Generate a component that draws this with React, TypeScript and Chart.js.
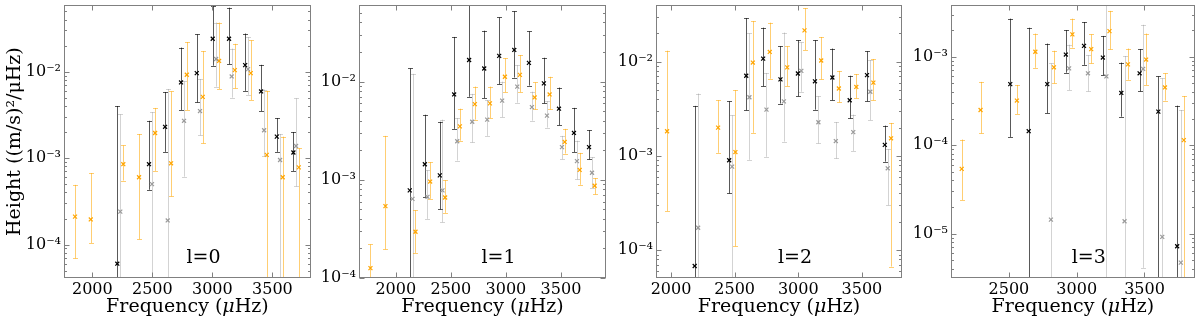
import React, { useEffect, useRef } from "react";
import { Chart, registerables } from "chart.js";

Chart.register(...registerables);

// ---------------- data ----------------
const xTicksFull = [2000, 2500, 3000, 3500];
const xTicksL3 = [2500, 3000, 3500];
const yTicksA = [1e-2, 1e-3, 1e-4];
const yTickLabelsA = ["10⁻²", "10⁻³", "10⁻⁴"];
const yTicksL3 = [1e-3, 1e-4, 1e-5];
const yTickLabelsL3 = ["10⁻³", "10⁻⁴", "10⁻⁵"];
const panelLabels = ["l=0", "l=1", "l=2", "l=3"];
const xTitleParts = ["Frequency (", "μ", "Hz)"];
const yTitle = "Height ((m/s)²/μHz)";

// l = 0
const l0BlackFreq = [2208, 2472, 2606, 2739, 2870, 3003, 3139, 3273, 3406, 3537, 3675];
const l0BlackVal = [6.0e-5, 8.5e-4, 2.3e-3, 7.5e-3, 9.6e-3, 2.4e-2, 2.4e-2, 1.19e-2, 5.9e-3, 1.77e-3, 1.16e-3];
const l0BlackLo = [1e-8, 4.3e-4, 1.18e-3, 3.6e-3, 4.4e-3, 1.17e-2, 1.22e-2, 6.0e-3, 3.5e-3, 1.18e-3, 7.1e-4];
const l0BlackHi = [4.0e-3, 2.7e-3, 5.8e-3, 1.9e-2, 2.7e-2, 5.7e-2, 5.5e-2, 2.76e-2, 1.2e-2, 2.9e-3, 2.0e-3];

const l0GrayFreq = [2233, 2497, 2628, 2764, 2897, 3031, 3161, 3297, 3431, 3564, 3697];
const l0GrayVal = [2.4e-4, 5.0e-4, 1.9e-4, 2.7e-3, 3.5e-3, 1.4e-2, 8.8e-3, 1.07e-2, 2.1e-3, 9.5e-4, 1.38e-3];
const l0GrayLo = [1e-8, 1e-8, 1e-8, 6.1e-4, 1.83e-3, 6.7e-3, 5.0e-3, 5.4e-3, 1.06e-3, 1e-8, 4.7e-4];
const l0GrayHi = [3.2e-3, 3.4e-3, 6.3e-3, 7.7e-3, 8.2e-3, 3.7e-2, 1.85e-2, 2.5e-2, 6.2e-3, 1.9e-3, 4.9e-3];

const l0OrangeFreq = [1856, 1987, 2258, 2389, 2523, 2656, 2787, 2920, 3056, 3187, 3320, 3453, 3586, 3720];
const l0OrangeVal = [2.1e-4, 1.95e-4, 8.5e-4, 6.0e-4, 1.95e-3, 8.7e-4, 9.2e-3, 5.1e-3, 1.33e-2, 1.04e-2, 9.6e-3, 1.09e-3, 6.0e-4, 7.8e-4];
const l0OrangeLo = [6.9e-5, 1.04e-4, 5.5e-4, 1.15e-4, 7.1e-4, 3.6e-4, 3.6e-3, 1.48e-3, 6.3e-3, 6.4e-3, 4.7e-3, 1e-8, 1e-8, 1e-8];
const l0OrangeHi = [4.9e-4, 6.7e-4, 1.4e-3, 1.9e-3, 3.8e-3, 5.9e-3, 2.2e-2, 1.73e-2, 3.7e-2, 2.1e-2, 2.3e-2, 6.0e-3, 1.77e-3, 1.3e-3];

// l = 1
const l1BlackFreq = [2127, 2264, 2400, 2530, 2666, 2803, 2939, 3076, 3209, 3345, 3482, 3618, 3755];
const l1BlackVal = [7.8e-4, 1.44e-3, 1.11e-3, 7.4e-3, 1.66e-2, 1.36e-2, 1.83e-2, 2.1e-2, 1.55e-2, 9.6e-3, 5.3e-3, 3.0e-3, 2.15e-3];
const l1BlackLo = [1e-8, 6.7e-4, 5.0e-4, 3.3e-3, 7.0e-3, 6.8e-3, 9.4e-3, 1.1e-2, 9.1e-3, 6.0e-3, 3.6e-3, 1.92e-3, 1.61e-3];
const l1BlackHi = [1.36e-2, 4.6e-3, 3.9e-3, 2.85e-2, 1e-1, 3.3e-2, 4.5e-2, 5.2e-2, 3.25e-2, 1.75e-2, 8.7e-3, 5.4e-3, 3.2e-3];

const l1GrayFreq = [2152, 2288, 2424, 2558, 2694, 2830, 2966, 3103, 3236, 3373, 3509, 3645, 3782];
const l1GrayVal = [6.4e-4, 6.7e-4, 7.8e-4, 2.47e-3, 3.9e-3, 4.1e-3, 6.4e-3, 8.9e-3, 5.5e-3, 4.5e-3, 2.15e-3, 1.55e-3, 1.18e-3];
const l1GrayLo = [1e-8, 4.0e-4, 3.7e-4, 1.57e-3, 2.4e-3, 2.8e-3, 4.35e-3, 6.1e-3, 4.0e-3, 3.4e-3, 1.62e-3, 1.01e-3, 8.3e-4];
const l1GrayHi = [1.2e-2, 1.25e-3, 4.1e-3, 4.25e-3, 7.5e-3, 6.5e-3, 1.0e-2, 1.47e-2, 7.9e-3, 6.3e-3, 2.8e-3, 2.5e-3, 1.7e-3];

const l1OrangeFreq = [1770, 1906, 2179, 2312, 2448, 2582, 2718, 2855, 2991, 3127, 3261, 3397, 3534, 3670, 3806];
const l1OrangeVal = [1.26e-4, 5.4e-4, 2.96e-4, 9.6e-4, 6.6e-4, 3.5e-3, 5.9e-3, 6.0e-3, 1.12e-2, 1.17e-2, 6.9e-3, 7.4e-3, 2.43e-3, 1.26e-3, 8.7e-4];
const l1OrangeLo = [1e-8, 1.96e-4, 1.8e-4, 6.4e-4, 4.6e-4, 2.5e-3, 4.1e-3, 4.25e-3, 7.8e-3, 7.8e-3, 5.2e-3, 5.2e-3, 1.85e-3, 8.9e-4, 7.1e-4];
const l1OrangeHi = [2.2e-4, 2.8e-3, 4.9e-4, 1.51e-3, 9.9e-4, 5.3e-3, 8.9e-3, 8.9e-3, 1.73e-2, 1.86e-2, 9.8e-3, 1.12e-2, 3.3e-3, 1.88e-3, 1.04e-3];

// l = 2
const l2BlackFreq = [2186, 2457, 2591, 2724, 2860, 2997, 3131, 3268, 3404, 3540, 3680];
const l2BlackVal = [6.8e-5, 9.0e-4, 7.1e-3, 1.08e-2, 6.5e-3, 7.5e-3, 6.2e-3, 6.8e-3, 3.9e-3, 7.2e-3, 1.31e-3];
const l2BlackLo = [1e-8, 4.0e-4, 3.05e-3, 5.5e-3, 3.6e-3, 4.3e-3, 3.1e-3, 3.9e-3, 2.5e-3, 3.8e-3, 8.7e-4];
const l2BlackHi = [3.4e-3, 3.8e-3, 2.9e-2, 2.3e-2, 1.46e-2, 1.69e-2, 1.69e-2, 1.38e-2, 7.1e-3, 1.29e-2, 2.1e-3];

const l2GrayFreq = [2213, 2480, 2616, 2750, 2887, 3024, 3158, 3295, 3432, 3566, 3703];
const l2GrayVal = [1.73e-4, 7.7e-4, 4.2e-3, 3.1e-3, 3.8e-3, 8.0e-3, 2.28e-3, 1.44e-3, 1.79e-3, 4.8e-3, 7.4e-4];
const l2GrayLo = [1e-8, 1e-8, 9.1e-4, 9.8e-4, 1.42e-3, 4.8e-3, 1.36e-3, 9.4e-4, 1.13e-3, 2.4e-3, 3.0e-4];
const l2GrayHi = [4.6e-3, 2.7e-3, 2.0e-2, 7.6e-3, 2.04e-2, 1.6e-2, 4.3e-3, 2.28e-3, 2.75e-3, 1.04e-2, 1.18e-3];

const l2OrangeFreq = [1969, 2370, 2506, 2643, 2776, 2913, 3049, 3180, 3319, 3456, 3590, 3729];
const l2OrangeVal = [1.83e-3, 2.0e-3, 1.1e-3, 9.8e-3, 1.27e-2, 8.7e-3, 2.15e-2, 1.03e-2, 5.2e-3, 5.4e-3, 6.0e-3, 1.54e-3];
const l2OrangeLo = [2.6e-4, 1.08e-3, 1.1e-4, 1.76e-3, 6.6e-3, 5.5e-3, 1.33e-2, 6.5e-3, 3.7e-3, 4.1e-3, 3.9e-3, 6.7e-5];
const l2OrangeHi = [1.31e-2, 3.9e-3, 5.0e-3, 2.7e-2, 2.6e-2, 1.46e-2, 3.7e-2, 1.83e-2, 8.0e-3, 7.4e-3, 1.07e-2, 2.24e-3];

// l = 3
const l3BlackFreq = [2510, 2646, 2783, 2920, 3054, 3193, 3329, 3464, 3602, 3741];
const l3BlackVal = [4.9e-4, 1.44e-4, 4.9e-4, 1.06e-3, 1.33e-3, 9.8e-4, 3.9e-4, 6.5e-4, 2.4e-4, 7.2e-6];
const l3BlackLo = [1.24e-4, 1e-9, 2.3e-4, 6.6e-4, 8.1e-4, 6.2e-4, 2.1e-4, 4.06e-4, 1e-9, 1e-9];
const l3BlackHi = [2.7e-3, 2.13e-3, 1.41e-3, 2.0e-3, 2.47e-3, 1.72e-3, 8.6e-4, 1.22e-3, 6.0e-4, 2.8e-4];

const l3GrayFreq = [2810, 2944, 3083, 3219, 3353, 3490, 3631, 3768];
const l3GrayVal = [1.44e-5, 7.4e-4, 6.5e-4, 6.0e-4, 1.38e-5, 7.3e-4, 9.2e-6, 4.7e-6];
const l3GrayLo = [1e-9, 4.2e-4, 4.06e-4, 1e-9, 1e-9, 4.1e-6, 1e-9, 1e-9];
const l3GrayHi = [8.4e-4, 1.37e-3, 1.04e-3, 1e-2, 1.02e-3, 2.3e-3, 5.7e-4, 2.5e-4];

const l3OrangeFreq = [2152, 2291, 2559, 2695, 2832, 2968, 3107, 3242, 3378, 3512, 3651, 3790];
const l3OrangeVal = [5.4e-5, 2.5e-4, 3.2e-4, 1.14e-3, 7.6e-4, 1.79e-3, 1.22e-3, 1.95e-3, 8.2e-4, 9.3e-4, 4.5e-4, 1.14e-4];
const l3OrangeLo = [2.4e-5, 1.36e-4, 2.25e-4, 7.5e-4, 5.0e-4, 1.27e-3, 8.4e-4, 1.21e-3, 5.5e-4, 4.8e-4, 3.2e-4, 1e-9];
const l3OrangeHi = [1.16e-4, 5.2e-4, 4.8e-4, 1.83e-3, 1.17e-3, 2.7e-3, 1.79e-3, 3.3e-3, 1.24e-3, 1.83e-3, 6.5e-4, 3.6e-4];

// axis ranges
const xRanges = [[1764, 3820], [1666, 3909], [1882, 3815], [2073, 3871]];
const yRanges = [[4.1e-5, 5.87e-2], [1e-4, 6.0e-2], [5.07e-5, 3.98e-2], [3.15e-6, 3.83e-3]];

// ---------------- build ----------------
type Series = { freq: number[]; val: number[]; lo: number[]; hi: number[] };
const mk = (freq: number[], val: number[], lo: number[], hi: number[]): Series => ({ freq, val, lo, hi });

const PANEL_DATA = [
  {
    black: mk(l0BlackFreq, l0BlackVal, l0BlackLo, l0BlackHi),
    gray: mk(l0GrayFreq, l0GrayVal, l0GrayLo, l0GrayHi),
    orange: mk(l0OrangeFreq, l0OrangeVal, l0OrangeLo, l0OrangeHi),
    xTicks: xTicksFull, yTicks: yTicksA, yLabels: yTickLabelsA,
  },
  {
    black: mk(l1BlackFreq, l1BlackVal, l1BlackLo, l1BlackHi),
    gray: mk(l1GrayFreq, l1GrayVal, l1GrayLo, l1GrayHi),
    orange: mk(l1OrangeFreq, l1OrangeVal, l1OrangeLo, l1OrangeHi),
    xTicks: xTicksFull, yTicks: yTicksA, yLabels: yTickLabelsA,
  },
  {
    black: mk(l2BlackFreq, l2BlackVal, l2BlackLo, l2BlackHi),
    gray: mk(l2GrayFreq, l2GrayVal, l2GrayLo, l2GrayHi),
    orange: mk(l2OrangeFreq, l2OrangeVal, l2OrangeLo, l2OrangeHi),
    xTicks: xTicksFull, yTicks: yTicksA, yLabels: yTickLabelsA,
  },
  {
    black: mk(l3BlackFreq, l3BlackVal, l3BlackLo, l3BlackHi),
    gray: mk(l3GrayFreq, l3GrayVal, l3GrayLo, l3GrayHi),
    orange: mk(l3OrangeFreq, l3OrangeVal, l3OrangeLo, l3OrangeHi),
    xTicks: xTicksL3, yTicks: yTicksL3, yLabels: yTickLabelsL3,
  },
];

// layout (page pixels)
const LAYOUT = [
  { left: 0, width: 316, yAxisW: 64, padRight: 5 },
  { left: 316, width: 296, yAxisW: 43, padRight: 6 },
  { left: 612, width: 296, yAxisW: 44, padRight: 6 },
  { left: 908, width: 292, yAxisW: 43, padRight: 3 },
];
const H = 320;
const PAD_TOP = 3;
const X_AXIS_H = 42;
const FONT = "'DejaVu Serif', serif";
const TITLE_SIZE = 19;

const STYLE = {
  black: { bar: "rgba(0,0,0,0.65)", mark: "#000000" },
  gray: { bar: "rgba(128,128,128,0.35)", mark: "#9a9a9a" },
  orange: { bar: "rgba(255,165,0,0.55)", mark: "#ffa500" },
};

const zeroPad = (s: any) => {
  s.paddingTop = 0;
  s.paddingBottom = 0;
  s.paddingLeft = 0;
  s.paddingRight = 0;
};

const decorPlugin = {
  id: "decor",
  beforeDatasetsDraw(chart: any) {
    const { ctx, chartArea: a, scales } = chart;
    const xs = scales.x;
    const ys = scales.y;
    ctx.save();
    ctx.beginPath();
    ctx.rect(a.left, a.top, a.right - a.left, a.bottom - a.top);
    ctx.clip();
    ctx.lineWidth = 1;
    for (const ds of chart.data.datasets) {
      ctx.strokeStyle = ds.errColor;
      ds.data.forEach((p: any, i: number) => {
        const x = Math.round(xs.getPixelForValue(p.x)) + 0.5;
        const yLo = ys.getPixelForValue(ds.errLo[i]);
        const yHi = ys.getPixelForValue(ds.errHi[i]);
        ctx.beginPath();
        ctx.moveTo(x, Math.max(Math.min(yLo, a.bottom + 5), a.top - 5));
        ctx.lineTo(x, Math.max(Math.min(yHi, a.bottom + 5), a.top - 5));
        const cl = Math.round(yLo) + 0.5;
        const ch = Math.round(yHi) + 0.5;
        ctx.moveTo(x - 2.5, cl);
        ctx.lineTo(x + 2.5, cl);
        ctx.moveTo(x - 2.5, ch);
        ctx.lineTo(x + 2.5, ch);
        ctx.stroke();
      });
    }
    ctx.restore();
  },
  afterDraw(chart: any, _args: any, opts: any) {
    const { ctx, chartArea: a, scales } = chart;
    const xs = scales.x;
    const ys = scales.y;
    ctx.save();
    ctx.strokeStyle = "#808080";
    ctx.lineWidth = 1;
    const L = Math.round(a.left) + 0.5;
    const R = Math.round(a.right) - 0.5;
    const T = Math.round(a.top) + 0.5;
    const B = Math.round(a.bottom) - 0.5;
    ctx.strokeRect(L, T, R - L, B - T);
    ctx.beginPath();
    const d0 = Math.floor(Math.log10(ys.min));
    const d1 = Math.ceil(Math.log10(ys.max));
    for (let d = d0; d <= d1; d++) {
      for (let k = 1; k <= 9; k++) {
        const v = k * Math.pow(10, d);
        if (v < ys.min || v > ys.max) continue;
        const y = Math.round(ys.getPixelForValue(v)) + 0.5;
        const len = k === 1 ? 5 : 2.5;
        ctx.moveTo(L, y);
        ctx.lineTo(L + len, y);
        ctx.moveTo(R, y);
        ctx.lineTo(R - len, y);
      }
    }
    for (const v of opts.xTicks) {
      const x = Math.round(xs.getPixelForValue(v)) + 0.5;
      ctx.moveTo(x, B);
      ctx.lineTo(x, B - 5);
      ctx.moveTo(x, T);
      ctx.lineTo(x, T + 5);
    }
    ctx.stroke();

    // panel label
    ctx.fillStyle = "#000";
    ctx.font = `19px ${FONT}`;
    ctx.textAlign = "center";
    ctx.textBaseline = "middle";
    ctx.fillText(opts.label, a.left + 0.565 * (a.right - a.left), a.bottom - 20);

    // x-axis title with italic mu
    const fonts = [`${TITLE_SIZE}px ${FONT}`, `italic ${TITLE_SIZE}px ${FONT}`, `${TITLE_SIZE}px ${FONT}`];
    const widths = xTitleParts.map((t, i) => {
      ctx.font = fonts[i];
      return ctx.measureText(t).width;
    });
    const total = widths.reduce((s, w) => s + w, 0);
    let x = (a.left + a.right) / 2 - total / 2;
    ctx.textAlign = "left";
    xTitleParts.forEach((t, i) => {
      ctx.font = fonts[i];
      ctx.fillText(t, x, a.bottom + 29);
      x += widths[i];
    });
    ctx.restore();
  },
};

function makeDataset(s: Series, style: { bar: string; mark: string }) {
  return {
    data: s.freq.map((f, i) => ({ x: f, y: s.val[i] })),
    errLo: s.lo,
    errHi: s.hi,
    errColor: style.bar,
    pointStyle: "crossRot",
    pointRadius: 2.8,
    pointBorderWidth: 1.2,
    borderColor: style.mark,
    backgroundColor: style.mark,
    showLine: false,
  };
}

function Panel({ idx }: { idx: number }) {
  const ref = useRef<HTMLCanvasElement | null>(null);
  const lay = LAYOUT[idx];
  useEffect(() => {
    const pd = PANEL_DATA[idx];
    const [xMin, xMax] = xRanges[idx];
    const [yMin, yMax] = yRanges[idx];
    const chart = new Chart(ref.current as HTMLCanvasElement, {
      type: "scatter",
      data: {
        datasets: [
          makeDataset(pd.black, STYLE.black),
          makeDataset(pd.gray, STYLE.gray),
          makeDataset(pd.orange, STYLE.orange),
        ] as any,
      },
      options: {
        animation: false,
        responsive: false,
        devicePixelRatio: 1,
        events: [],
        layout: { padding: { left: 0, right: lay.padRight, top: PAD_TOP, bottom: 0 } },
        plugins: {
          legend: { display: false },
          tooltip: { enabled: false },
          decor: { label: panelLabels[idx], xTicks: pd.xTicks },
        } as any,
        scales: {
          x: {
            type: "linear",
            min: xMin,
            max: xMax,
            grid: { display: false, drawTicks: false },
            border: { display: false },
            afterBuildTicks: (s: any) => {
              s.ticks = pd.xTicks.map((v) => ({ value: v }));
            },
            afterFit: (s: any) => {
              s.height = X_AXIS_H;
              zeroPad(s);
            },
            ticks: {
              autoSkip: false,
              maxRotation: 0,
              padding: 2,
              color: "#000",
              font: { family: FONT, size: 16 },
              callback: (v: any) => String(v),
            },
            title: { display: false },
          },
          y: {
            type: "logarithmic",
            min: yMin,
            max: yMax,
            grid: { display: false, drawTicks: false },
            border: { display: false },
            afterBuildTicks: (s: any) => {
              s.ticks = pd.yTicks.map((v) => ({ value: v }));
            },
            afterFit: (s: any) => {
              s.width = lay.yAxisW;
              zeroPad(s);
            },
            ticks: {
              autoSkip: false,
              padding: 3,
              color: "#000",
              font: { family: FONT, size: 16 },
              callback: (v: any) => {
                const i = pd.yTicks.findIndex((t) => Math.abs(t - v) / t < 1e-6);
                return i >= 0 ? pd.yLabels[i] : "";
              },
            },
            title: {
              display: idx === 0,
              text: yTitle,
              color: "#000",
              font: { family: FONT, size: TITLE_SIZE },
              padding: { top: 4, bottom: 0 },
            },
          },
        },
      } as any,
      plugins: [decorPlugin as any],
    });
    return () => chart.destroy();
  }, [idx]);
  return (
    <div style={{ position: "absolute", left: lay.left, top: 0, width: lay.width, height: H }}>
      <canvas ref={ref} width={lay.width} height={H} style={{ display: "block" }} />
    </div>
  );
}

export default function App() {
  return (
    <div style={{ position: "absolute", left: 0, top: 0, width: 1200, height: H, background: "#fff" }}>
      {[0, 1, 2, 3].map((i) => (
        <Panel key={i} idx={i} />
      ))}
    </div>
  );
}
